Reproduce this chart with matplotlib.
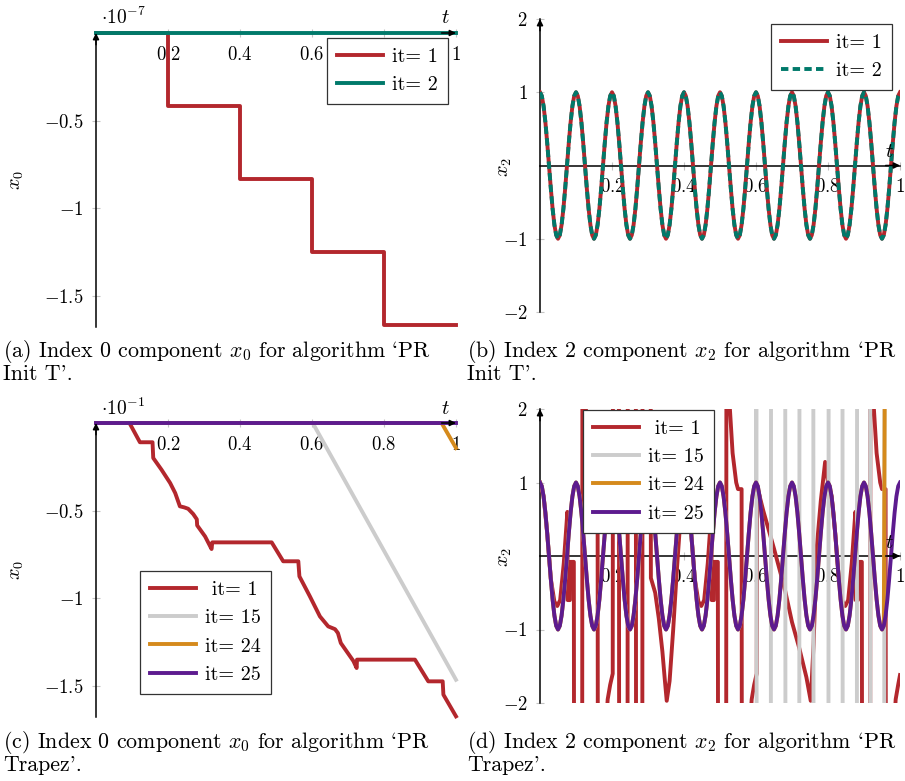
import numpy as np
import matplotlib
matplotlib.use('Agg')
import matplotlib.pyplot as plt

plt.rcParams['font.family'] = ['cmr10', 'DejaVu Serif']
plt.rcParams['mathtext.fontset'] = 'cm'
plt.rcParams['axes.formatter.use_mathtext'] = True

# Colores
RED = '#b3272d'
TEAL = '#00796a'
GRAY = '#cccccc'
ORANGE = '#d58a1c'
PURPLE = '#5d1b8f'

# ---- datos (a): x0, 'PR Init T' (escala 1e-7)
t_a = [0, 0.2, 0.2, 0.4, 0.4, 0.6, 0.6, 0.8, 0.8, 1.0]
x0_it1_a = [0, 0, -0.417, -0.417, -0.834, -0.834, -1.251, -1.251, -1.668, -1.668]
t_flat = [0, 1]
x0_zero = [0, 0]

# ---- solucion oscilante x2 (b) y it=25 en (d)
t_wave = np.linspace(0, 1, 201)
x2_wave = [
    1.00, 0.95, 0.81, 0.59, 0.31, 0.00, -0.31, -0.59, -0.81, -0.95, -1.00, -0.95, -0.81, -0.59, -0.31, 0.00, 0.31, 0.59, 0.81, 0.95,
    1.00, 0.95, 0.81, 0.59, 0.31, 0.00, -0.31, -0.59, -0.81, -0.95, -1.00, -0.95, -0.81, -0.59, -0.31, 0.00, 0.31, 0.59, 0.81, 0.95,
    1.00, 0.95, 0.81, 0.59, 0.31, 0.00, -0.31, -0.59, -0.81, -0.95, -1.00, -0.95, -0.81, -0.59, -0.31, 0.00, 0.31, 0.59, 0.81, 0.95,
    1.00, 0.95, 0.81, 0.59, 0.31, 0.00, -0.31, -0.59, -0.81, -0.95, -1.00, -0.95, -0.81, -0.59, -0.31, 0.00, 0.31, 0.59, 0.81, 0.95,
    1.00, 0.95, 0.81, 0.59, 0.31, 0.00, -0.31, -0.59, -0.81, -0.95, -1.00, -0.95, -0.81, -0.59, -0.31, 0.00, 0.31, 0.59, 0.81, 0.95,
    1.00, 0.95, 0.81, 0.59, 0.31, 0.00, -0.31, -0.59, -0.81, -0.95, -1.00, -0.95, -0.81, -0.59, -0.31, 0.00, 0.31, 0.59, 0.81, 0.95,
    1.00, 0.95, 0.81, 0.59, 0.31, 0.00, -0.31, -0.59, -0.81, -0.95, -1.00, -0.95, -0.81, -0.59, -0.31, 0.00, 0.31, 0.59, 0.81, 0.95,
    1.00, 0.95, 0.81, 0.59, 0.31, 0.00, -0.31, -0.59, -0.81, -0.95, -1.00, -0.95, -0.81, -0.59, -0.31, 0.00, 0.31, 0.59, 0.81, 0.95,
    1.00, 0.95, 0.81, 0.59, 0.31, 0.00, -0.31, -0.59, -0.81, -0.95, -1.00, -0.95, -0.81, -0.59, -0.31, 0.00, 0.31, 0.59, 0.81, 0.95,
    1.00, 0.95, 0.81, 0.59, 0.31, 0.00, -0.31, -0.59, -0.81, -0.95, -1.00, -0.95, -0.81, -0.59, -0.31, 0.00, 0.31, 0.59, 0.81, 0.95,
    1.00]

# ---- datos (c): x0, 'PR Trapez' (escala 1e-1)
t_red_c = [0, 0.093, 0.122, 0.157, 0.159, 0.182, 0.206, 0.220, 0.233, 0.245,
           0.256, 0.270, 0.280, 0.281, 0.303, 0.321, 0.323, 0.488, 0.520, 0.562,
           0.565, 0.594, 0.622, 0.645, 0.664, 0.672, 0.680, 0.715, 0.724, 0.725,
           0.886, 0.923, 0.963, 0.965, 1.0]
x0_red_c = [0, 0, -0.11, -0.11, -0.20, -0.267, -0.343, -0.40, -0.476, -0.482,
            -0.49, -0.52, -0.55, -0.585, -0.648, -0.72, -0.682, -0.682, -0.79, -0.79,
            -0.876, -0.99, -1.105, -1.162, -1.178, -1.20, -1.257, -1.36, -1.40, -1.352,
            -1.352, -1.476, -1.476, -1.552, -1.676]
t_gray_c = [0, 0.602, 1.0]
x0_gray_c = [0, 0, -1.467]
t_orange_c = [0, 0.96, 1.0]
x0_orange_c = [0, 0, -0.143]

# ---- datos (d): x2, 'PR Trapez' (valores +-5 fuera de escala)
t_red_d = [
    0.000, 0.010, 0.020, 0.030, 0.040, 0.048, 0.056, 0.066, 0.076, 0.077,
    0.083, 0.084, 0.094, 0.095, 0.117, 0.118, 0.125, 0.135, 0.145, 0.150,
    0.160, 0.161, 0.180, 0.188, 0.195, 0.202, 0.203, 0.219, 0.220, 0.243,
    0.244, 0.266, 0.267, 0.284, 0.285, 0.307, 0.308, 0.320, 0.330, 0.340,
    0.347, 0.352, 0.360, 0.370, 0.380, 0.390,
    0.400, 0.410, 0.420, 0.430, 0.440, 0.448, 0.456, 0.466, 0.476, 0.477,
    0.483, 0.484, 0.494, 0.495, 0.517, 0.518, 0.525, 0.535, 0.545, 0.550,
    0.560, 0.561, 0.580, 0.588, 0.595, 0.602, 0.603, 0.620, 0.650, 0.680,
    0.700, 0.720, 0.740, 0.752, 0.760, 0.769, 0.780, 0.792,
    0.800, 0.810, 0.820, 0.830, 0.840, 0.848, 0.856, 0.866, 0.876, 0.877,
    0.883, 0.884, 0.894, 0.895, 0.917, 0.918, 0.925, 0.935, 0.945, 0.950,
    0.960, 0.961, 0.980, 0.988, 0.995, 1.000]
x2_red_d = [
    1.00, 0.81, 0.31, -0.31, -0.62, -0.68, -0.60, -0.10, 0.60, -0.60,
    -0.60, -0.08, -0.08, -5, -5, 5, 2.2, 1.4, 1.0, 0.91,
    0.91, -5, -2.6, -1.95, -1.75, -1.60, 5, 5, -5, -5,
    5, 5, -5, -5, 5, 5, -0.30, -0.50, -0.85, -1.30,
    -1.70, -1.97, -1.70, -1.00, -0.20, 0.50,
    1.00, 0.81, 0.31, -0.31, -0.62, -0.68, -0.60, -0.10, 0.60, -0.60,
    -0.60, -0.08, -0.08, -5, -5, 5, 2.2, 1.4, 1.0, 0.91,
    0.91, -5, -2.6, -1.95, -1.75, -1.60, 0.95, 0.62, 0.10, -0.45,
    -0.90, -1.25, -1.65, -1.97, -1.20, 0.13, 0.75, 1.28,
    1.00, 0.81, 0.31, -0.31, -0.62, -0.68, -0.60, -0.10, 0.60, -0.60,
    -0.60, -0.08, -0.08, -5, -5, 5, 2.2, 1.4, 1.0, 0.91,
    0.91, -5, -2.6, -1.95, -1.75, -1.62]
# it=15 sigue la solucion hasta t=0.6 y luego salta
t_gray_d_tail = [0.601, 0.602, 0.641, 0.642, 0.681, 0.682, 0.720, 0.721, 0.759, 0.760,
                 0.801, 0.802, 0.840, 0.841, 0.880, 0.881, 0.917, 0.918, 0.956, 0.957, 1.0]
x2_gray_d_tail = [5, -5, -5, 5, 5, -5, -5, 5, 5, -5,
                  -5, 5, 5, -5, -5, 5, 5, -5, -5, 5, 5]
# it=24 sigue la solucion hasta t=0.955
t_orange_d_tail = [0.96, 1.0]
x2_orange_d_tail = [5, 5]

t_gray_d = list(t_wave[:121]) + t_gray_d_tail
x2_gray_d = x2_wave[:121] + x2_gray_d_tail
t_orange_d = list(t_wave[:192]) + t_orange_d_tail
x2_orange_d = x2_wave[:192] + x2_orange_d_tail

x_ticks = [0.2, 0.4, 0.6, 0.8, 1.0]
x_ticklabels = ['$0.2$', '$0.4$', '$0.6$', '$0.8$', '$1$']

W, H = 905, 781
fig = plt.figure(figsize=(W / 100, H / 100), dpi=100)


def add_px_axes(left, top, right, bottom):
    return fig.add_axes([left / W, 1 - bottom / H, (right - left) / W, (bottom - top) / H])


def fig_text(x, y, s, **kw):
    fig.text(x / W, 1 - y / H, s, **kw)


def axes_medio(ax, ylim, yticks, yticklabels):
    ax.set_xlim(0, 1)
    ax.set_ylim(*ylim)
    ax.patch.set_visible(False)
    for s in ['top', 'right']:
        ax.spines[s].set_visible(False)
    for s in ['left', 'bottom']:
        ax.spines[s].set_position(('data', 0))
        ax.spines[s].set_linewidth(1.1)
    ax.set_xticks(x_ticks)
    ax.set_xticklabels(x_ticklabels)
    ax.set_yticks(yticks)
    ax.set_yticklabels(yticklabels)
    ax.tick_params(direction='inout', length=6, width=0.8, color='#c4c4c4',
                   labelsize=13.5, pad=6)
    flecha = dict(arrowstyle='-|>', color='k', lw=1.1, mutation_scale=9, shrinkA=0, shrinkB=0)
    ax.annotate('', xy=(1, 0), xycoords=ax.get_yaxis_transform(),
                xytext=(0.96, 0), textcoords=ax.get_yaxis_transform(),
                arrowprops=flecha, annotation_clip=False)
    ax.annotate('', xy=(0, 1), xycoords=ax.get_xaxis_transform(),
                xytext=(0, 0.96), textcoords=ax.get_xaxis_transform(),
                arrowprops=flecha, annotation_clip=False)


def leyenda(ax, loc, anchor):
    leg = ax.legend(loc=loc, bbox_to_anchor=anchor, borderaxespad=0, fancybox=False,
                    edgecolor='#333333', framealpha=1, fontsize=14.5, handlelength=2.3,
                    handletextpad=0.45, labelspacing=0.5, borderpad=0.5)
    leg.get_frame().set_linewidth(0.9)


LW = 2.8

# (a)
ax = add_px_axes(96, 33, 456, 326.7)
ax.plot(t_a, x0_it1_a, color=RED, lw=LW, label='it= 1', clip_on=False, zorder=3)
ax.plot(t_flat, x0_zero, color=TEAL, lw=LW, label='it= 2', clip_on=False, zorder=3)
axes_medio(ax, (-1.675, 0), [-1.5, -1, -0.5], ['$-1.5$', '$-1$', '$-0.5$'])
leyenda(ax, 'upper right', (0.978, 0.983))
fig_text(101, 17, r'$\cdot 10^{-7}$', fontsize=14, va='center', ha='left')
fig_text(445, 18, '$t$', fontsize=15, va='center', ha='center')
fig_text(17, 180, '$x_0$', fontsize=14.5, va='center', ha='center', rotation=90)

# (b)
ax = add_px_axes(540, 19, 900, 312)
ax.plot(t_wave, x2_wave, color=RED, lw=LW, label='it= 1', zorder=3)
ax.plot(t_wave, x2_wave, color=TEAL, lw=LW, ls=(0, (1.9, 1.1)), label='it= 2', zorder=3)
axes_medio(ax, (-2, 2), [-2, -1, 1, 2], ['$-2$', '$-1$', '$1$', '$2$'])
leyenda(ax, 'upper right', (0.978, 0.983))
fig_text(889, 152, '$t$', fontsize=15, va='center', ha='center')
fig_text(505, 167, '$x_2$', fontsize=14.5, va='center', ha='center', rotation=90)

# (c)
ax = add_px_axes(96, 423, 456, 716.7)
ax.plot(t_red_c, x0_red_c, color=RED, lw=LW, label=' it= 1', clip_on=False, zorder=3)
ax.plot(t_gray_c, x0_gray_c, color=GRAY, lw=LW, label='it= 15', clip_on=False, zorder=3)
ax.plot(t_orange_c, x0_orange_c, color=ORANGE, lw=LW, label='it= 24', clip_on=False, zorder=3)
ax.plot(t_flat, x0_zero, color=PURPLE, lw=LW, label='it= 25', clip_on=False, zorder=3)
axes_medio(ax, (-1.678, 0), [-1.5, -1, -0.5], ['$-1.5$', '$-1$', '$-0.5$'])
leyenda(ax, 'upper left', (0.122, 0.496))
fig_text(101, 408, r'$\cdot 10^{-1}$', fontsize=14, va='center', ha='left')
fig_text(445, 409, '$t$', fontsize=15, va='center', ha='center')
fig_text(17, 570, '$x_0$', fontsize=14.5, va='center', ha='center', rotation=90)

# (d)
ax = add_px_axes(540, 409, 900, 703)
ax.plot(t_red_d, x2_red_d, color=RED, lw=LW, label=' it= 1', zorder=3)
ax.plot(t_gray_d, x2_gray_d, color=GRAY, lw=LW, label='it= 15', zorder=3)
ax.plot(t_orange_d, x2_orange_d, color=ORANGE, lw=LW, label='it= 24', zorder=3)
ax.plot(t_wave, x2_wave, color=PURPLE, lw=LW, label='it= 25', zorder=3)
axes_medio(ax, (-2, 2), [-2, -1, 1, 2], ['$-2$', '$-1$', '$1$', '$2$'])
leyenda(ax, 'upper left', (0.119, 0.997))
fig_text(889, 543, '$t$', fontsize=15, va='center', ha='center')
fig_text(505, 557, '$x_2$', fontsize=14.5, va='center', ha='center', rotation=90)

# Subtitulos
CAP = 15.8
fig_text(3, 357, "(a) Index 0 component $x_0$ for algorithm `PR", fontsize=CAP, va='baseline')
fig_text(3, 380, "Init T'.", fontsize=CAP, va='baseline')
fig_text(467, 357, "(b) Index 2 component $x_2$ for algorithm `PR", fontsize=CAP, va='baseline')
fig_text(467, 380, "Init T'.", fontsize=CAP, va='baseline')
fig_text(3, 748, "(c) Index 0 component $x_0$ for algorithm `PR", fontsize=CAP, va='baseline')
fig_text(3, 771, "Trapez'.", fontsize=CAP, va='baseline')
fig_text(467, 748, "(d) Index 2 component $x_2$ for algorithm `PR", fontsize=CAP, va='baseline')
fig_text(467, 771, "Trapez'.", fontsize=CAP, va='baseline')

fig.savefig('out.png', dpi=100)
